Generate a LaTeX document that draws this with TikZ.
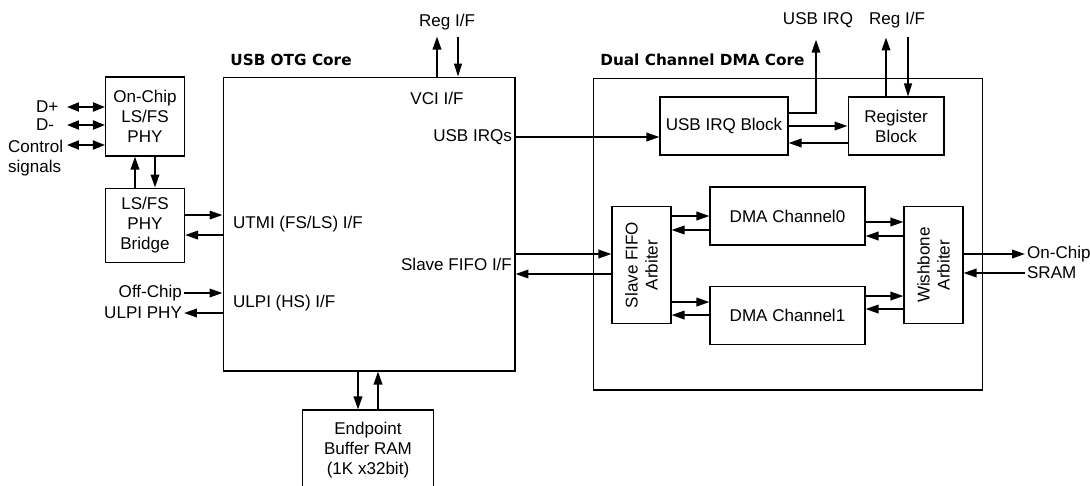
\documentclass[tikz,border=0pt]{standalone}
\usepackage{fontspec}
\setmainfont{Liberation Sans}
\newfontfamily\titlefont{DejaVu Sans}
\usetikzlibrary{arrows.meta, positioning, calc}

\begin{document}
\begin{tikzpicture}[
  x=0.02cm, y=-0.02cm,
  font=\fontsize{9.7}{11.4}\selectfont,
  box/.style={draw, line width=0.6pt, inner sep=0pt, align=center},
  lbl/.style={inner sep=1pt, align=left},
  ttl/.style={inner sep=0pt, font=\titlefont\bfseries\fontsize{8.7}{10}\selectfont},
  arr/.style={-{Triangle[length=2.6mm, width=1.7mm]}, line width=1.1pt},
  tarr/.style={-{Triangle[length=2.6mm, width=1.6mm]}, line width=0.6pt},
  darr/.style={{Triangle[length=2.4mm, width=1.8mm]}-{Triangle[length=2.4mm, width=1.8mm]}, line width=1.1pt}
]
  \fill[white] (0,0) rectangle (1090,485);
  \useasboundingbox (0,0) rectangle (1090,485);

  \node[box, minimum width=5.84cm, minimum height=5.88cm] (otg) at (369,224) {};
  \node[ttl, anchor=west] (otgttl) at (230,60) {USB OTG Core};
  \node[box, minimum width=1.58cm, minimum height=1.58cm] (phy) at (145,116.5) {On-Chip\\LS/FS\\PHY};
  \node[box, minimum width=1.58cm, minimum height=1.48cm, below=0.62cm of phy] (bridge) {LS/FS\\PHY\\Bridge};
  \node[box, minimum width=2.62cm, minimum height=1.6cm] (epram) at (368,450) {Endpoint\\Buffer RAM\\(1K x32bit)};

  \node[lbl] (vci) at (437,98) {VCI I/F};
  \node[lbl, anchor=east] (irqs) at (514,137) {USB IRQs};
  \node[lbl, anchor=west] (utmi) at (231,224) {UTMI (FS/LS) I/F};
  \node[lbl, anchor=west] (ulpi) at (231,303) {ULPI (HS) I/F};
  \node[lbl, anchor=east] (sfif) at (514,264) {Slave FIFO I/F};
  \node[lbl] (regotg) at (447,22) {Reg I/F};

  \node[lbl, anchor=west] (dp) at (34,107) {D+};
  \node[lbl, anchor=west] (dm) at (34,125) {D-};
  \node[lbl, anchor=west] (ctl) at (6,158) {Control\\signals};
  \node[lbl, anchor=east] (offc) at (184,293) {Off-Chip};
  \node[lbl, anchor=east] (ulpiphy) at (184,313) {ULPI PHY};

  \node[box, minimum width=7.8cm, minimum height=6.24cm] (dma) at (788,234) {};
  \node[ttl, anchor=west] (dmattl) at (600,60) {Dual Channel DMA Core};
  \node[box, minimum width=2.56cm, minimum height=1.16cm] (irq) at (724,126) {USB IRQ Block};
  \node[box, minimum width=1.92cm, minimum height=1.16cm, right=1.18cm of irq] (reg) {Register\\Block};
  \node[box, rotate=90, minimum width=2.34cm, minimum height=1.18cm] (sfa) at (641.5,265) {Slave FIFO\\Arbiter};
  \node[box, minimum width=3.1cm, minimum height=1.16cm] (ch0) at (787.5,216) {DMA Channel0};
  \node[box, minimum width=3.1cm, minimum height=1.16cm, below=0.8cm of ch0] (ch1) {DMA Channel1};
  \node[box, rotate=90, minimum width=2.34cm, minimum height=1.18cm] (wba) at (933.5,265) {Wishbone\\Arbiter};

  \node[lbl] (irqtop) at (818,20) {USB IRQ};
  \node[lbl] (regtop) at (897,20) {Reg I/F};
  \node[lbl, anchor=west] (onchip) at (1025,254) {On-Chip};
  \node[lbl, anchor=west] (sram) at (1025,273) {SRAM};

  \draw[darr] ($(phy.west)+(-38,-9.5)$) -- ($(phy.west)+(0,-9.5)$);
  \draw[darr] ($(phy.west)+(-38,8.5)$) -- ($(phy.west)+(0,8.5)$);
  \draw[darr] ($(phy.west)+(-38,28.5)$) -- ($(phy.west)+(0,28.5)$);
  \draw[arr] ($(bridge.north)+(-10,0)$) -- ($(phy.south)+(-10,0)$);
  \draw[arr] ($(phy.south)+(10,0)$) -- ($(bridge.north)+(10,0)$);

  \draw[arr] ($(bridge.east)+(0,-10)$) -- ($(bridge.east -| otg.west)+(0,-10)$);
  \draw[arr] ($(bridge.east -| otg.west)+(0,10)$) -- ($(bridge.east)+(0,10)$);
  \draw[arr] (offc.east) -- (offc.east -| otg.west);
  \draw[arr] (ulpiphy.east -| otg.west) -- (ulpiphy.east);

  \draw[arr] (vci |- otg.north) -- ++(0,-40);
  \draw[tarr] ($(vci |- otg.north)+(21,-40)$) -- ++(0,40);
  \draw[arr] ($(otg.south -| epram.north)+(-10,0)$) -- ($(epram.north)+(-10,0)$);
  \draw[arr] ($(epram.north)+(10,0)$) -- ($(otg.south -| epram.north)+(10,0)$);

  \draw[arr] (irqs.east -| otg.east) -- (irqs.east -| irq.west);
  \draw[arr] ($(sfa.north -| otg.east)+(0,-11)$) -- ($(sfa.north)+(0,-11)$);
  \draw[arr] ($(sfa.north)+(0,9)$) -- ($(sfa.north -| otg.east)+(0,9)$);

  \draw[arr] (irq.east) -- (irq.east -| reg.west);
  \draw[arr] ($(reg.west)+(0,17)$) -- ($(reg.west -| irq.east)+(0,17)$);
  \draw[arr] ($(irq.east)+(0,-13)$) -| ($(irqtop.south)+(-2,10)$);
  \draw[arr] ($(reg.north)+(-10,0)$) -- ++(0,-59);
  \draw[tarr] ($(reg.north)+(12,-59)$) -- ++(0,59);

  \draw[arr] (sfa.south |- ch0.west) -- (ch0.west);
  \draw[arr] ($(ch0.west)+(0,14)$) -- ($(sfa.south |- ch0.west)+(0,14)$);
  \draw[arr] ($(sfa.south |- ch1.west)+(0,-13)$) -- ($(ch1.west)+(0,-13)$);
  \draw[arr] (ch1.west) -- (sfa.south |- ch1.west);

  \draw[arr] ($(ch0.east)+(0,6)$) -- ($(wba.north |- ch0.east)+(0,6)$);
  \draw[arr] ($(wba.north |- ch0.east)+(0,20)$) -- ($(ch0.east)+(0,20)$);
  \draw[arr] ($(ch1.east)+(0,-19)$) -- ($(wba.north |- ch1.east)+(0,-19)$);
  \draw[arr] ($(wba.north |- ch1.east)+(0,-6)$) -- ($(ch1.east)+(0,-6)$);

  \draw[arr] (onchip.west -| wba.south) -- (onchip.west);
  \draw[arr] (sram.west) -- (sram.west -| wba.south);
\end{tikzpicture}
\end{document}
